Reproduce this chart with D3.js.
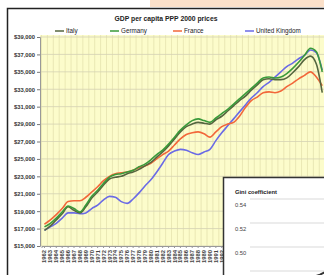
<!DOCTYPE html>
<html>
<head>
<meta charset="utf-8">
<script src="https://d3js.org/d3.v7.min.js"></script>
<style>
  body { margin: 0; background: #fff; }
  svg { display: block; font-family: "Liberation Sans", Arial, sans-serif; }
</style>
</head>
<body>
<div id="chart"></div>
<script>
// GDP per capita, PPP 2000 prices (thousands of $)
var years = d3.range(1962, 2010);
var italy = [16.8,17.3,18.0,18.7,19.5,19.1,18.8,19.5,20.5,21.2,22.0,22.7,22.9,23.0,23.3,23.5,
  23.8,24.2,24.6,25.2,25.8,26.5,27.3,28.1,28.7,29.0,29.2,29.1,29.0,29.5,29.9,30.5,
  31.1,31.7,32.2,32.9,33.5,34.1,34.2,34.1,34.1,34.3,34.9,35.6,36.4,36.8,35.9,32.6];
var germany = [17.2,17.6,18.2,18.9,19.6,19.3,18.9,19.7,20.7,21.4,22.2,22.9,23.2,23.3,23.5,23.7,
  24.1,24.4,24.9,25.5,26.0,26.7,27.5,28.3,28.9,29.4,29.6,29.4,29.2,29.7,30.2,30.7,
  31.3,31.9,32.5,33.1,33.7,34.3,34.4,34.3,34.4,34.8,35.4,36.1,36.9,37.7,37.3,35.0];
var france = [17.5,18.0,18.6,19.3,20.1,20.2,20.2,20.6,21.2,21.8,22.5,23.0,23.3,23.4,23.5,23.7,
  24.0,24.2,24.5,25.0,25.5,25.9,26.6,27.3,27.8,28.0,28.1,27.9,27.5,28.1,28.7,29.0,
  29.2,29.9,30.9,31.7,32.1,32.6,32.7,32.6,32.8,33.3,33.7,34.2,34.6,35.0,34.4,33.4];
var uk = [16.8,17.2,17.6,18.2,18.8,18.8,18.7,18.8,19.3,19.7,20.3,20.7,20.6,20.1,19.9,20.4,
  21.1,21.9,22.6,23.5,24.5,25.5,25.9,26.1,26.0,25.7,25.5,25.8,26.1,27.1,28.0,28.8,
  29.6,30.4,31.2,32.0,32.6,33.3,33.8,34.4,35.0,35.6,36.0,36.5,36.9,37.5,37.2,35.2];
var seriesNames = ["Italy", "Germany", "France", "United Kingdom"];
var yTicks = [15, 17, 19, 21, 23, 25, 27, 29, 31, 33, 35, 37, 39];

// Gini inset (only its upper left corner is in view)
var giniYears = [2006, 2007, 2008, 2009];
var gini = [0.470, 0.474, 0.477, 0.481];
var giniTicks = [0.54, 0.52, 0.50, 0.48];

var width = 324, height = 275;
var color = d3.scaleOrdinal()
  .domain(seriesNames)
  .range(["#55663f", "#3a9a3a", "#f2673a", "#6a6ae6"]);

var svg = d3.select("#chart").append("svg")
  .attr("width", width)
  .attr("height", height);

// Peach strip at top right
svg.append("rect")
  .attr("x", 150).attr("y", 0).attr("width", 174).attr("height", 7)
  .attr("fill", "#fbe0c9");

// Chart frame
svg.append("rect")
  .attr("x", 7.5).attr("y", 8.5).attr("width", 400).attr("height", 300)
  .attr("fill", "#fff").attr("stroke", "#222").attr("stroke-width", 1.5);

svg.append("text")
  .attr("x", 166).attr("y", 21)
  .attr("text-anchor", "middle")
  .attr("font-size", 6.8).attr("font-weight", "bold").attr("fill", "#222")
  .text("GDP per capita PPP 2000 prices");

// Legend
var legendX = [55, 110, 173, 245];
var legend = svg.selectAll(".leg")
  .data(seriesNames)
  .enter().append("g")
    .attr("class", "leg")
    .attr("transform", function(d, i) { return "translate(" + legendX[i] + ",31)"; });
legend.append("line")
  .attr("x1", 0).attr("x2", 9)
  .attr("stroke", function(d) { return color(d); })
  .attr("stroke-width", 1.5);
legend.append("text")
  .attr("x", 11).attr("dy", "0.35em")
  .attr("font-size", 6.3).attr("fill", "#222")
  .text(function(d) { return d; });

// Scales
var x = d3.scaleBand().domain(years).range([41.5, 325.2]);
var y = d3.scaleLinear().domain([15, 39]).range([246, 37]);
var cx = function(yr) { return x(yr) + x.bandwidth() / 2; };

svg.append("rect")
  .attr("x", 40).attr("y", 35).attr("width", 290).attr("height", 211)
  .attr("fill", "#fcfccb");

// Vertical grid
svg.selectAll(".vgrid")
  .data(years)
  .enter().append("line")
    .attr("class", "vgrid")
    .attr("x1", function(d) { return x(d); })
    .attr("x2", function(d) { return x(d); })
    .attr("y1", 35).attr("y2", 246)
    .attr("stroke", "#e5e2ae").attr("stroke-width", 0.8);

// Horizontal grid
svg.selectAll(".hgrid")
  .data(yTicks)
  .enter().append("line")
    .attr("class", "hgrid")
    .attr("x1", 40).attr("x2", 330)
    .attr("y1", function(d) { return y(d); })
    .attr("y2", function(d) { return y(d); })
    .attr("stroke", "#d4d2b4").attr("stroke-width", 0.8);

// Y axis
var yAxis = svg.append("g")
  .attr("transform", "translate(40,0)")
  .call(d3.axisLeft(y).tickValues(yTicks).tickSize(3).tickPadding(2)
    .tickFormat(function(d) { return "$" + d3.format(",")(d * 1000); }));
yAxis.select(".domain").attr("stroke", "#999");
yAxis.selectAll(".tick line").attr("stroke", "#777");
yAxis.selectAll("text")
  .attr("font-size", 5.8).attr("font-weight", "bold").attr("fill", "#333")
  .attr("font-family", "Liberation Sans, Arial, sans-serif");

// X axis
var xAxis = svg.append("g")
  .attr("transform", "translate(0,246)")
  .call(d3.axisBottom(x).tickSize(2).tickPadding(2));
xAxis.select(".domain").attr("stroke", "#999");
xAxis.selectAll(".tick line").attr("stroke", "#999");
xAxis.selectAll("text")
  .attr("font-size", 5.8).attr("font-weight", "bold").attr("fill", "#444")
  .attr("font-family", "Liberation Sans, Arial, sans-serif")
  .attr("text-anchor", "end")
  .attr("transform", "rotate(-90)")
  .attr("x", -4).attr("y", 0).attr("dy", "0.35em");

// Lines
var series = [
  { name: "United Kingdom", values: uk },
  { name: "France", values: france },
  { name: "Italy", values: italy },
  { name: "Germany", values: germany }
];
var line = d3.line()
  .x(function(d, i) { return cx(years[i]); })
  .y(function(d) { return y(d); })
  .curve(d3.curveMonotoneX);

svg.selectAll(".series")
  .data(series)
  .enter().append("path")
    .attr("class", "series")
    .attr("d", function(d) { return line(d.values); })
    .attr("fill", "none")
    .attr("stroke", function(d) { return color(d.name); })
    .attr("stroke-width", 1.6);

// Gini inset
var inset = svg.append("g");
inset.append("rect")
  .attr("x", 223.5).attr("y", 177.5).attr("width", 200).attr("height", 200)
  .attr("fill", "#fff").attr("stroke", "#333").attr("stroke-width", 1.5);
inset.append("text")
  .attr("x", 235).attr("y", 194)
  .attr("font-size", 5.8).attr("font-weight", "bold").attr("fill", "#222")
  .text("Gini coefficient");

var gy = d3.scaleLinear().domain([0.48, 0.54]).range([271, 199]);
var gx = d3.scaleLinear().domain([2006, 2009]).range([300, 330]);
inset.selectAll(".ggrid")
  .data(giniTicks)
  .enter().append("line")
    .attr("x1", 250).attr("x2", 330)
    .attr("y1", function(d) { return gy(d); })
    .attr("y2", function(d) { return gy(d); })
    .attr("stroke", "#cfcfcf").attr("stroke-width", 0.8);
inset.selectAll(".glab")
  .data(giniTicks)
  .enter().append("text")
    .attr("x", 235)
    .attr("y", function(d) { return gy(d) + 6; })
    .attr("dy", "0.35em")
    .attr("font-size", 5.8).attr("fill", "#444")
    .text(function(d) { return d3.format(".2f")(d); });
inset.append("path")
  .datum(gini)
  .attr("d", d3.line()
    .x(function(d, i) { return gx(giniYears[i]); })
    .y(function(d) { return gy(d); }))
  .attr("fill", "none").attr("stroke", "#333").attr("stroke-width", 2);
</script>
</body>
</html>
